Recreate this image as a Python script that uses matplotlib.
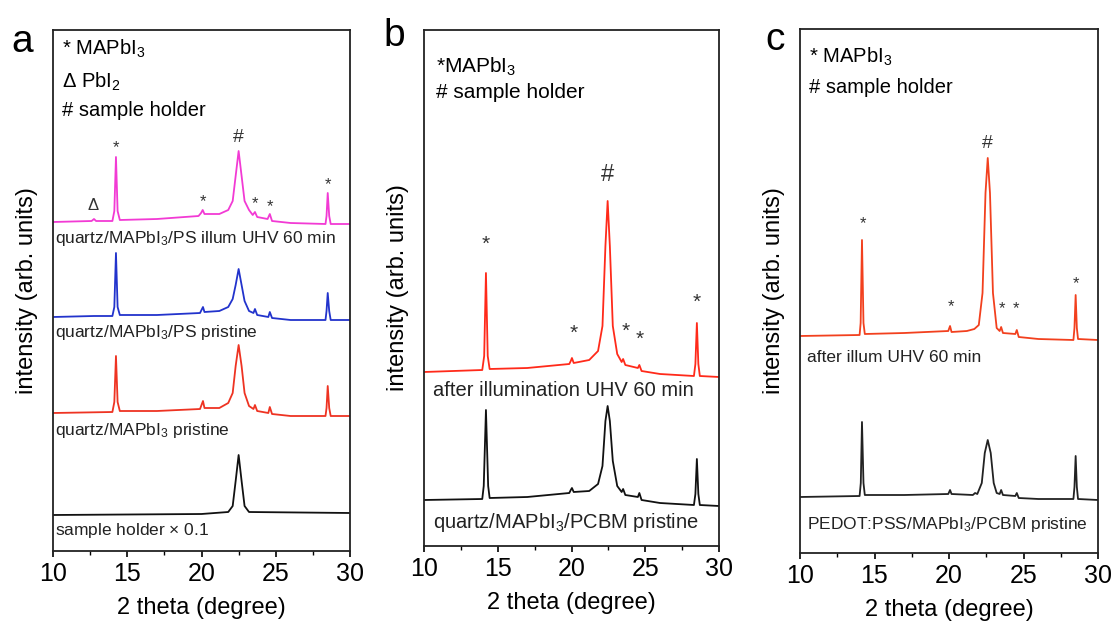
import numpy as np
import matplotlib.pyplot as plt
from matplotlib.ticker import MultipleLocator

plt.rcParams['font.family'] = ['Liberation Sans', 'DejaVu Sans']
plt.rcParams['mathtext.fontset'] = 'custom'
plt.rcParams['mathtext.rm'] = 'Liberation Sans'
plt.rcParams['mathtext.it'] = 'Liberation Sans:italic'

# ---- DATA (2 theta in degree, intensity in arb. units, offset already included) ----
# panel a
a_illum = [(10, 329), (12.6, 330), (12.76, 332), (12.9, 330), (14.0, 330), (14.13, 340), (14.24, 394),
           (14.35, 340), (14.5, 331), (17, 332), (19.8, 335), (19.97, 338), (20.08, 341), (20.2, 337),
           (21.2, 337), (21.8, 341), (22.1, 350), (22.3, 375), (22.5, 400), (22.7, 375), (22.9, 350),
           (23.2, 341), (23.45, 336), (23.6, 339), (23.75, 334), (24.45, 332), (24.6, 337), (24.75, 330),
           (26, 328), (28.35, 327), (28.42, 335), (28.5, 358), (28.6, 335), (28.7, 327), (30, 327)]
a_ps = [(10, 234), (12.76, 235), (14.0, 235), (14.13, 244), (14.24, 298), (14.35, 244), (14.5, 236),
        (17, 236), (19.9, 238), (20.0, 241), (20.1, 244), (20.2, 239), (21.2, 240), (21.8, 244),
        (22.1, 252), (22.3, 266), (22.5, 282), (22.7, 266), (22.9, 250), (23.2, 240), (23.5, 238),
        (23.6, 242), (23.75, 236), (24.5, 234), (24.6, 239), (24.75, 233), (26, 231), (28.35, 231),
        (28.42, 240), (28.5, 258), (28.6, 240), (28.7, 231), (30, 231)]
a_mapbi = [(10, 138), (14.0, 139), (14.13, 149), (14.24, 195), (14.35, 149), (14.5, 140), (17, 140),
           (19.9, 142), (20.0, 146), (20.1, 150), (20.2, 143), (21.2, 143), (21.8, 148), (22.1, 158),
           (22.3, 185), (22.5, 206), (22.7, 185), (22.9, 158), (23.2, 145), (23.5, 142), (23.6, 146),
           (23.75, 140), (24.5, 138), (24.6, 144), (24.75, 137), (26, 135), (28.35, 135), (28.42, 143),
           (28.5, 165), (28.6, 143), (28.7, 135), (30, 135)]
a_holder = [(10, 36), (20, 37), (21.8, 39), (22.1, 45), (22.3, 70), (22.5, 96), (22.7, 70), (22.9, 45),
            (23.2, 39), (30, 38)]

# panel b
b_illum = [(10, 174), (13.95, 176), (14.08, 190), (14.2, 273), (14.32, 190), (14.45, 177), (17, 178),
           (19.85, 182), (19.95, 185), (20.03, 188), (20.15, 183), (21.2, 186), (21.8, 195), (22.1, 220),
           (22.3, 300), (22.45, 345), (22.6, 300), (22.8, 220), (23.1, 192), (23.4, 184), (23.5, 187),
           (23.65, 181), (24.5, 178), (24.6, 181), (24.75, 175), (26, 172), (28.3, 170), (28.4, 182),
           (28.5, 223), (28.6, 182), (28.7, 170), (30, 169)]
b_pristine = [(10, 46), (13.95, 47), (14.05, 60), (14.2, 136), (14.35, 60), (14.45, 48), (17, 49),
              (19.85, 53), (19.95, 56), (20.03, 58), (20.15, 54), (21.2, 55), (21.8, 62), (22.1, 80),
              (22.3, 125), (22.45, 140), (22.6, 125), (22.8, 85), (23.1, 60), (23.4, 54), (23.5, 57),
              (23.65, 51), (24.5, 49), (24.6, 53), (24.75, 46), (26, 43), (28.3, 41), (28.4, 52),
              (28.5, 87), (28.6, 52), (28.7, 41), (30, 40)]

# panel c
c_illum = [(10, 217), (14.0, 218), (14.07, 230), (14.16, 313), (14.26, 230), (14.35, 219), (17, 220),
           (19.95, 222), (20.07, 227), (20.17, 221), (21.2, 222), (21.7, 224), (22.0, 228), (22.25, 260),
           (22.45, 360), (22.6, 395), (22.75, 360), (22.95, 260), (23.2, 225), (23.4, 222), (23.5, 226),
           (23.62, 220), (24.45, 219), (24.55, 223), (24.68, 216), (26, 214), (28.35, 213), (28.42, 225),
           (28.5, 258), (28.58, 225), (28.66, 214), (30, 213)]
c_pristine = [(10, 56), (14.0, 57), (14.08, 70), (14.16, 131), (14.26, 70), (14.35, 58), (17, 58),
              (19.95, 59), (20.07, 63), (20.17, 59), (21.6, 58), (21.75, 60), (21.9, 59), (22.2, 70),
              (22.4, 100), (22.6, 113), (22.8, 100), (23.0, 70), (23.2, 60), (23.4, 59), (23.5, 63),
              (23.62, 58), (24.45, 57), (24.55, 60), (24.68, 55), (26, 54), (28.35, 54), (28.42, 66),
              (28.5, 97), (28.58, 66), (28.66, 54), (30, 53)]

# peak marks: (2theta, height, symbol)
a_marks = [(12.7, 346, r'$\Delta$'), (14.24, 403, '*'), (20.1, 349, '*'), (22.5, 413, '#'),
           (23.6, 347, '*'), (24.6, 344, '*'), (28.5, 366, '*')]
b_marks = [(14.2, 302, '*'), (22.45, 371, '#'), (28.5, 244, '*'), (20.17, 213, '*'),
           (23.7, 215, '*'), (24.64, 207, '*')]
c_marks = [(14.2, 329, '*'), (22.6, 410, '#'), (28.5, 269, '*'), (20.1, 246, '*'),
           (23.55, 244, '*'), (24.5, 244, '*')]

a_labels = [(313, 'quartz/MAPbI$_3$/PS illum UHV 60 min'), (218, 'quartz/MAPbI$_3$/PS pristine'),
            (121, 'quartz/MAPbI$_3$ pristine'), (21, r'sample holder $\times$ 0.1')]
b_labels = [(156, 'after illumination UHV 60 min'), (24, 'quartz/MAPbI$_3$/PCBM pristine')]
c_labels = [(195, 'after illum UHV 60 min'), (28, 'PEDOT:PSS/MAPbI$_3$/PCBM pristine')]

# ---- FIGURE ----
W, H = 1112, 623
fig = plt.figure(figsize=(W / 100, H / 100), dpi=100)

def make_ax(l, r, t, b):
    ax = fig.add_axes([l / W, (H - b) / H, (r - l) / W, (b - t) / H])
    ax.set_xlim(10, 30)
    ax.set_ylim(0, b - t)
    ax.set_yticks([])
    ax.xaxis.set_major_locator(MultipleLocator(5))
    ax.xaxis.set_minor_locator(MultipleLocator(2.5))
    ax.tick_params(axis='x', which='major', direction='out', length=4, width=1.2, labelsize=18, pad=4)
    ax.tick_params(axis='x', which='minor', direction='out', length=3, width=1.0)
    for s in ax.spines.values():
        s.set_linewidth(1.3)
        s.set_color('#222222')
    ax.set_xlabel('2 theta (degree)', fontsize=17, labelpad=8)
    ax.set_ylabel('intensity (arb. units)', fontsize=17, labelpad=11)
    return ax

def curve(ax, pts, color):
    x, y = np.array(pts).T
    ax.plot(x, y, color=color, lw=1.3)

axa = make_ax(53, 350, 30, 551)
axb = make_ax(424, 719, 30, 546)
axc = make_ax(800, 1098, 29, 553)

curve(axa, a_illum, '#f23ad4')
curve(axa, a_ps, '#2233cc')
curve(axa, a_mapbi, '#ee3322')
curve(axa, a_holder, '#111111')
curve(axb, b_illum, '#ff2a1a')
curve(axb, b_pristine, '#111111')
curve(axc, c_illum, '#f2401e')
curve(axc, c_pristine, '#222222')

for ax, marks, fs in [(axa, a_marks, 12), (axb, b_marks, 15), (axc, c_marks, 12)]:
    for x, y, s in marks:
        sz = fs + 2 if s == '#' else fs
        ax.text(x, y, s, ha='center', va='center', fontsize=sz, color='#333333')

for ax, labels, fs, x0 in [(axa, a_labels, 12.5, 0.008), (axb, b_labels, 14.5, 0.03),
                           (axc, c_labels, 12.5, 0.023)]:
    for y, s in labels:
        ax.text(x0, y, s, transform=ax.get_yaxis_transform(), ha='left', va='center',
                fontsize=fs, color='#222222')

# legends of the symbols
axa.text(0.03, 0.9635, '$*$ MAPbI$_3$', transform=axa.transAxes, fontsize=14.5, va='center')
axa.text(0.03, 0.9002, r'$\Delta$ PbI$_2$', transform=axa.transAxes, fontsize=14.5, va='center')
axa.text(0.03, 0.8464, '# sample holder', transform=axa.transAxes, fontsize=14.5, va='center')
axb.text(0.04, 0.928, '*MAPbI$_3$', transform=axb.transAxes, fontsize=15, va='center')
axb.text(0.04, 0.878, '# sample holder', transform=axb.transAxes, fontsize=15, va='center')
axc.text(0.03, 0.9466, '$*$ MAPbI$_3$', transform=axc.transAxes, fontsize=14.5, va='center')
axc.text(0.03, 0.889, '# sample holder', transform=axc.transAxes, fontsize=14.5, va='center')

# panel letters
for x, y, s in [(11, 52, 'a'), (383, 46, 'b'), (765, 50, 'c')]:
    fig.text(x / W, 1 - y / H, s, fontsize=28, va='baseline', ha='left')

fig.savefig('out.png', dpi=100)
